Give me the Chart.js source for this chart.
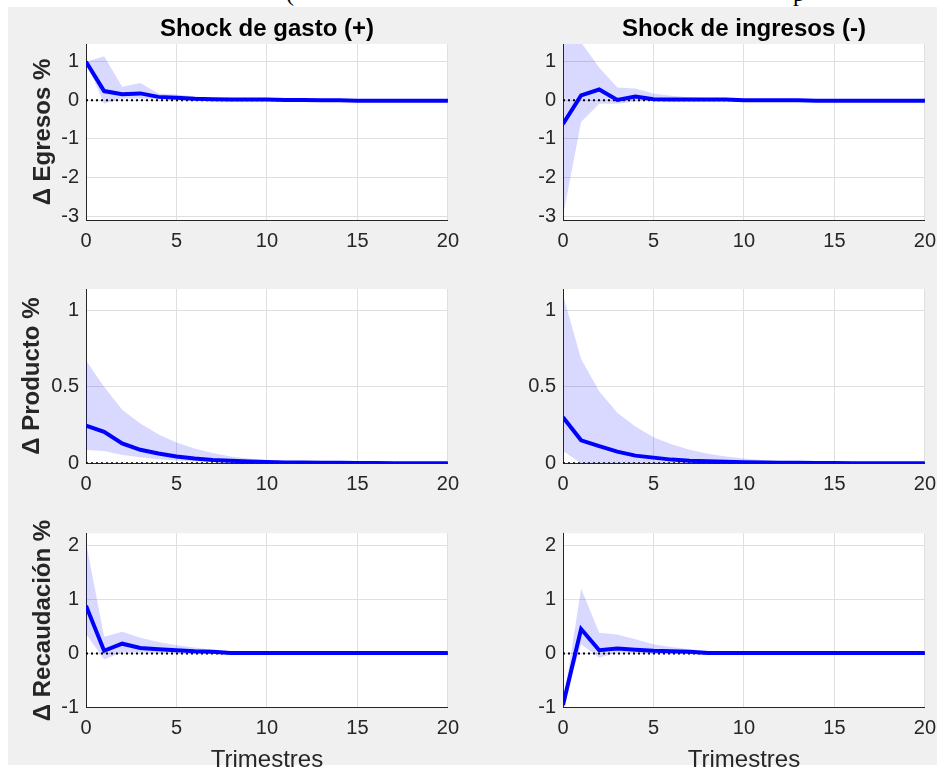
<!DOCTYPE html>
<html>
<head>
<meta charset="utf-8">
<script src="https://cdn.jsdelivr.net/npm/chart.js@4.4.1/dist/chart.umd.min.js"></script>
<style>
  html, body { margin: 0; padding: 0; background: #fff; width: 937px; height: 772px; overflow: hidden; }
  #fig { position: absolute; left: 8px; top: 7px; width: 929px; height: 758px; background: #f0f0f0; }
  #cabecera { position: absolute; left: 0; top: 0; width: 937px; height: 7px; overflow: hidden;
              font-family: 'Liberation Serif', serif; font-size: 24px; line-height: 24px; color: #000; }
  #cabecera span { position: absolute; top: -19px; }
  canvas { position: absolute; }
</style>
</head>
<body>
<div id="cabecera"><span style="left:286px">(</span><span style="left:793px">p</span></div>
<div id="fig"></div>
<canvas id="c11" width="460" height="248" style="left:8px;top:7px"></canvas>
<canvas id="c12" width="475" height="248" style="left:470px;top:7px"></canvas>
<canvas id="c21" width="460" height="245" style="left:8px;top:255px"></canvas>
<canvas id="c22" width="475" height="245" style="left:470px;top:255px"></canvas>
<canvas id="c31" width="460" height="275" style="left:8px;top:500px"></canvas>
<canvas id="c32" width="475" height="275" style="left:470px;top:500px"></canvas>
<script>
// horizonte (trimestres)
const trimestres = [0, 1, 2, 3, 4, 5, 6, 7, 8, 9, 10, 11, 12, 13, 14, 15, 16, 17, 18, 19, 20];
const xTicks = [0, 5, 10, 15, 20];
const egresosTicks = [-3, -2, -1, 0, 1];
const productoTicks = [0, 0.5, 1];
const recaudacionTicks = [-1, 0, 1, 2];

// Shock de gasto (+)
const gastoEgresos    = [1.00, 0.24, 0.16, 0.18, 0.09, 0.07, 0.04, 0.03, 0.02, 0.02, 0.02, 0.01, 0.01, 0.00, 0.00, -0.01, -0.01, -0.01, -0.01, -0.01, -0.01];
const gastoEgresosSup = [1.00, 1.14, 0.35, 0.45, 0.18, 0.15, 0.10, 0.07, 0.05, 0.04, 0.03, 0.02, 0.02, 0.01, 0.01, 0.00, 0.00, 0.00, 0.00, 0.00, 0.00];
const gastoEgresosInf = [1.00, -0.09, 0.05, 0.05, 0.03, 0.02, 0.01, 0.00, 0.00, 0.00, 0.00, 0.00, 0.00, 0.00, -0.01, -0.02, -0.02, -0.02, -0.02, -0.02, -0.02];

const gastoProducto    = [0.245, 0.205, 0.13, 0.088, 0.064, 0.045, 0.031, 0.022, 0.016, 0.012, 0.009, 0.006, 0.005, 0.004, 0.003, 0.002, 0.002, 0.001, 0.001, 0.001, 0.001];
const gastoProductoSup = [0.67, 0.50, 0.35, 0.26, 0.19, 0.135, 0.097, 0.067, 0.045, 0.032, 0.022, 0.015, 0.010, 0.007, 0.005, 0.004, 0.003, 0.002, 0.002, 0.001, 0.001];
const gastoProductoInf = [0.086, 0.08, 0.054, 0.039, 0.026, 0.018, 0.012, 0.008, 0.005, 0.003, 0.002, 0.001, 0.001, 0, 0, 0, 0, 0, 0, 0, 0];

const gastoRecaudacion    = [0.88, 0.05, 0.18, 0.10, 0.08, 0.06, 0.04, 0.03, 0.01, 0.01, 0.01, 0.01, 0.01, 0.01, 0.01, 0.01, 0.01, 0.01, 0.01, 0.01, 0.01];
const gastoRecaudacionSup = [2.05, 0.31, 0.40, 0.29, 0.21, 0.15, 0.11, 0.07, 0.04, 0.03, 0.02, 0.01, 0.01, 0.01, 0.01, 0.01, 0.01, 0.01, 0.01, 0.01, 0.01];
const gastoRecaudacionInf = [0.36, -0.11, 0.02, 0.02, 0.01, 0.01, 0.00, 0.00, 0.00, 0.00, 0.00, 0.00, 0.00, 0.00, 0.00, 0.00, 0.00, 0.00, 0.00, 0.00, 0.00];

// Shock de ingresos (-)
const ingresosEgresos    = [-0.61, 0.13, 0.28, 0.01, 0.10, 0.03, 0.02, 0.02, 0.02, 0.02, 0.00, 0.00, 0.00, 0.00, -0.01, -0.01, -0.01, -0.01, -0.01, -0.01, -0.01];
const ingresosEgresosSup = [2.20, 1.50, 0.85, 0.33, 0.31, 0.18, 0.12, 0.08, 0.05, 0.04, 0.03, 0.02, 0.01, 0.01, 0.01, 0.00, 0.00, 0.00, 0.00, 0.00, 0.00];
const ingresosEgresosInf = [-3.00, -0.56, -0.09, -0.09, -0.03, -0.01, 0.00, 0.00, 0.00, 0.00, 0.00, 0.00, 0.00, 0.00, -0.01, -0.02, -0.02, -0.02, -0.02, -0.02, -0.02];

const ingresosProducto    = [0.30, 0.15, 0.112, 0.076, 0.05, 0.037, 0.024, 0.017, 0.013, 0.010, 0.007, 0.005, 0.004, 0.003, 0.002, 0.002, 0.001, 0.001, 0.001, 0.001, 0.001];
const ingresosProductoSup = [1.10, 0.68, 0.47, 0.33, 0.24, 0.17, 0.125, 0.088, 0.062, 0.044, 0.032, 0.022, 0.015, 0.010, 0.007, 0.005, 0.004, 0.003, 0.002, 0.002, 0.001];
const ingresosProductoInf = [0.08, 0, 0, 0, 0, 0, 0, 0, 0, 0, 0, 0, 0, 0, 0, 0, 0, 0, 0, 0, 0];

const ingresosRecaudacion    = [-0.95, 0.45, 0.06, 0.09, 0.07, 0.05, 0.04, 0.03, 0.01, 0.01, 0.01, 0.01, 0.01, 0.01, 0.01, 0.01, 0.01, 0.01, 0.01, 0.01, 0.01];
const ingresosRecaudacionSup = [-0.95, 1.20, 0.38, 0.35, 0.26, 0.17, 0.12, 0.08, 0.05, 0.03, 0.02, 0.01, 0.01, 0.01, 0.01, 0.01, 0.01, 0.01, 0.01, 0.01, 0.01];
const ingresosRecaudacionInf = [-0.95, 0.17, -0.08, 0.02, 0.01, 0.00, 0.00, 0.00, 0.00, 0.00, 0.00, 0.00, 0.00, 0.00, 0.00, 0.00, 0.00, 0.00, 0.00, 0.00, 0.00];

const FONT = "'Liberation Sans', Arial, Helvetica, sans-serif";
const GRIS = '#262626';

// fondo blanco del area de ejes (estilo MATLAB)
const fondoBlanco = {
    id: 'fondoBlanco',
    beforeDraw(chart) {
        const { ctx, chartArea: a } = chart;
        ctx.save();
        ctx.fillStyle = '#fff';
        ctx.fillRect(a.left, a.top, a.right - a.left, a.bottom - a.top);
        ctx.restore();
    }
};

// titulo centrado sobre el area de ejes
const tituloPanel = {
    id: 'tituloPanel',
    afterDraw(chart, args, opts) {
        if (!opts.text) return;
        const { ctx, chartArea: a } = chart;
        ctx.save();
        ctx.font = 'bold 24px ' + FONT;
        ctx.fillStyle = '#000';
        ctx.textAlign = 'center';
        ctx.textBaseline = 'alphabetic';
        ctx.fillText(opts.text, (a.left + a.right) / 2, a.top - 8);
        ctx.restore();
    }
};

function panel(id, cfg) {
    const pts = arr => arr.map((v, i) => ({ x: trimestres[i], y: v }));
    new Chart(document.getElementById(id).getContext('2d'), {
        type: 'line',
        data: {
            datasets: [
                { data: pts(cfg.media), borderColor: '#0000ff', borderWidth: 4, pointRadius: 0, fill: false, tension: 0 },
                { data: pts(trimestres.map(() => 0)), borderColor: '#000', borderWidth: 2, borderDash: [2, 3], pointRadius: 0, fill: false },
                { data: pts(cfg.sup), borderColor: 'transparent', borderWidth: 0, pointRadius: 0, fill: '+1', backgroundColor: 'rgba(0,0,255,0.15)' },
                { data: pts(cfg.inf), borderColor: 'transparent', borderWidth: 0, pointRadius: 0, fill: false }
            ]
        },
        options: {
            responsive: false,
            animation: false,
            layout: { padding: { top: cfg.top, right: 12, bottom: 0, left: 0 } },
            plugins: {
                legend: { display: false },
                tooltip: { enabled: false },
                tituloPanel: { text: cfg.titulo }
            },
            scales: {
                x: {
                    type: 'linear', min: 0, max: 20,
                    afterBuildTicks: s => { s.ticks = xTicks.map(v => ({ value: v })); },
                    afterFit: s => { s.height = cfg.altoX; },
                    grid: { color: '#dfdfdf', drawTicks: false },
                    border: { color: GRIS, width: 1 },
                    ticks: { font: { family: FONT, size: 20 }, color: GRIS, padding: cfg.padX, maxRotation: 0, callback: v => String(v) },
                    title: {
                        display: !!cfg.etiquetaX, text: cfg.etiquetaX || '',
                        font: { family: FONT, size: 24 }, color: GRIS, padding: { top: 0, bottom: 0 }
                    }
                },
                y: {
                    min: cfg.min, max: cfg.max,
                    afterBuildTicks: s => { s.ticks = cfg.ticks.map(v => ({ value: v })); },
                    afterFit: s => { s.width = cfg.anchoY; },
                    grid: { color: '#dfdfdf', drawTicks: false },
                    border: { color: GRIS, width: 1 },
                    ticks: { font: { family: FONT, size: 20 }, color: GRIS, padding: 7, callback: v => String(v) },
                    title: {
                        display: !!cfg.etiquetaY, text: cfg.etiquetaY || '',
                        font: { family: FONT, size: 24, weight: 'bold' }, color: GRIS,
                        padding: { top: cfg.padY || 0, bottom: 0 }
                    }
                }
            }
        },
        plugins: [fondoBlanco, tituloPanel]
    });
}

const izq = { anchoY: 78 };
const der = { anchoY: 93 };
const fila1 = { top: 37, altoX: 35, padX: 9, min: -3.1, max: 1.46, ticks: egresosTicks };
const fila2 = { top: 34, altoX: 36.7, padX: 9, min: 0, max: 1.137, ticks: productoTicks };
const fila3 = { top: 33.3, altoX: 67.3, padX: 9, min: -1, max: 2.216, ticks: recaudacionTicks, etiquetaX: 'Trimestres' };

panel('c11', { ...izq, ...fila1, titulo: 'Shock de gasto (+)', etiquetaY: '\u0394 Egresos %', padY: 21,
    media: gastoEgresos, sup: gastoEgresosSup, inf: gastoEgresosInf });
panel('c12', { ...der, ...fila1, titulo: 'Shock de ingresos (-)',
    media: ingresosEgresos, sup: ingresosEgresosSup, inf: ingresosEgresosInf });
panel('c21', { ...izq, ...fila2, etiquetaY: '\u0394 Producto %', padY: 10,
    media: gastoProducto, sup: gastoProductoSup, inf: gastoProductoInf });
panel('c22', { ...der, ...fila2,
    media: ingresosProducto, sup: ingresosProductoSup, inf: ingresosProductoInf });
panel('c31', { ...izq, ...fila3, etiquetaY: '\u0394 Recaudación %', padY: 21,
    media: gastoRecaudacion, sup: gastoRecaudacionSup, inf: gastoRecaudacionInf });
panel('c32', { ...der, ...fila3,
    media: ingresosRecaudacion, sup: ingresosRecaudacionSup, inf: ingresosRecaudacionInf });
</script>
</body>
</html>
